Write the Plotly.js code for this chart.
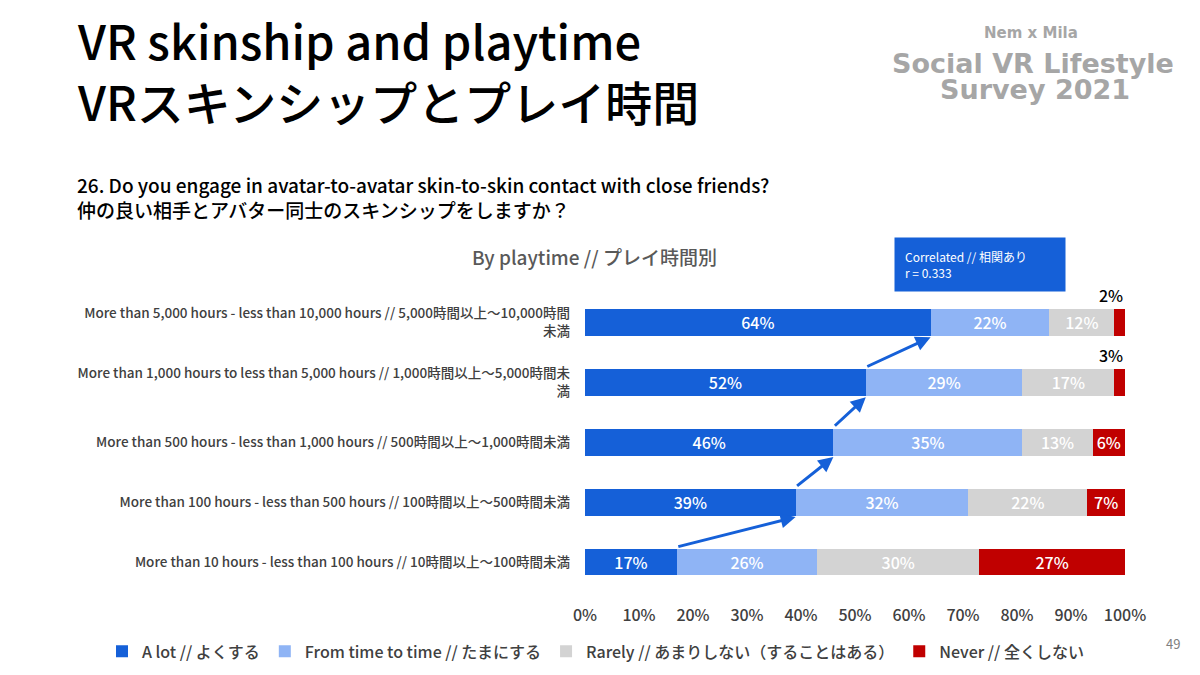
<!DOCTYPE html>
<html><head><meta charset="utf-8">
<script src="https://cdn.plot.ly/plotly-3.0.1.min.js"></script>
<style>body{margin:0;background:#fff}#chart{width:1200px;height:675px}</style>
</head><body><div id="chart"></div>
<script>
const categories = [
  'More than 10 hours - less than 100 hours // 10時間以上～100時間未満',
  'More than 100 hours - less than 500 hours // 100時間以上～500時間未満',
  'More than 500 hours - less than 1,000 hours // 500時間以上～1,000時間未満',
  'More than 1,000 hours to less than 5,000 hours // 1,000時間以上～5,000時間未<br>満',
  'More than 5,000 hours - less than 10,000 hours // 5,000時間以上～10,000時間<br>未満'
];
const seriesNames = ['A lot // よくする', 'From time to time // たまにする', 'Rarely // あまりしない（することはある）', 'Never // 全くしない'];
const aLot = [17, 39, 46, 52, 64];
const sometimes = [26, 32, 35, 29, 22];
const rarely = [30, 22, 13, 17, 12];
const never = [27, 7, 6, 3, 2];
const xTicks = [0,10,20,30,40,50,60,70,80,90,100];

const colors = ['#1560d8', '#8fb4f5', '#d3d3d3', '#c00000'];
const rows = categories.map((c, i) => i);
const font = 'Noto Sans CJK JP, Noto Sans, sans-serif';

const data = [aLot, sometimes, rarely, never].map((vals, k) => ({
  type: 'bar', orientation: 'h', name: seriesNames[k],
  x: vals, y: rows, width: 0.45,
  marker: {color: colors[k]},
  text: vals.map(v => (k == 3 && v < 5) ? '' : v + '%'),
  textposition: 'inside', insidetextanchor: 'middle', textangle: 0, constraintext: 'none',
  textfont: {color: '#fff', size: 16, family: font, weight: 500},
  hoverinfo: 'none'
}));

const annotations = [];
// arrows between A lot bar ends
for (let i = 0; i < aLot.length - 1; i++) {
  annotations.push({
    x: aLot[i+1], y: rows[i+1] - 0.25, ax: aLot[i], ay: rows[i] + 0.25,
    xref: 'x', yref: 'y', axref: 'x', ayref: 'y',
    showarrow: true, arrowhead: 2, arrowsize: 1, arrowwidth: 3, arrowcolor: '#1560d8', text: ''
  });
}
// small never values above bars
never.forEach((v, i) => {
  if (v < 5) annotations.push({x: 100, y: rows[i] + 0.45, xref: 'x', yref: 'y', text: v + '%',
    showarrow: false, xanchor: 'right', font: {size: 16, color: '#000', family: font, weight: 500}});
});
annotations.push(
  {x: 0.0625, y: 0.995, xref: 'paper', yref: 'paper', xanchor: 'left', yanchor: 'top', align: 'left', showarrow: false,
   text: 'VR skinship and playtime<br>VRスキンシップとプレイ時間', font: {size: 47, color: '#000', family: font, weight: 500}},
  {x: 0.0625, y: 0.75, xref: 'paper', yref: 'paper', xanchor: 'left', yanchor: 'top', align: 'left', showarrow: false,
   text: '26. Do you engage in avatar-to-avatar skin-to-skin contact with close friends?<br>仲の良い相手とアバター同士のスキンシップをしますか？', font: {size: 19, color: '#000', family: font, weight: 500}},
  {x: 0.495, y: 0.62, xref: 'paper', yref: 'paper', showarrow: false,
   text: 'By playtime // プレイ時間別', font: {size: 19, color: '#595959', family: font, weight: 500}},
  {x: 0.745, y: 0.568, xref: 'paper', yref: 'paper', xanchor: 'left', yanchor: 'bottom', align: 'left', showarrow: false,
   text: 'Correlated // 相関あり<br>r = 0.333', bgcolor: '#1560d8', borderpad: 10, width: 150,
   font: {size: 12, color: '#fff', family: font}},
  {x: 0.9, y: 0.968, xref: 'paper', yref: 'paper', xanchor: 'right', showarrow: false,
   text: '<b>Nem x Mila</b>', font: {size: 15, color: '#a6a6a6', family: 'DejaVu Sans'}},
  {x: 0.98, y: 0.932, xref: 'paper', yref: 'paper', xanchor: 'right', showarrow: false,
   text: '<b>Social VR Lifestyle</b>', font: {size: 27, color: '#a6a6a6', family: 'DejaVu Sans'}},
  {x: 0.943, y: 0.894, xref: 'paper', yref: 'paper', xanchor: 'right', showarrow: false,
   text: '<b>Survey 2021</b>', font: {size: 27, color: '#a6a6a6', family: 'DejaVu Sans'}},
  {x: 0.985, y: 0.03, xref: 'paper', yref: 'paper', showarrow: false,
   text: '49', font: {size: 13, color: '#7f7f7f', family: font}}
);

const layout = {
  width: 1200, height: 675, margin: {l: 0, r: 0, t: 0, b: 0},
  paper_bgcolor: '#fff', plot_bgcolor: '#fff',
  barmode: 'stack', showlegend: true,
  legend: {orientation: 'h', x: 0.085, y: 0.035, xanchor: 'left', yanchor: 'middle',
    font: {size: 16, color: '#404040', family: font, weight: 500}, itemwidth: 30, traceorder: 'normal'},
  xaxis: {domain: [0.4875, 0.9375], range: [0, 100], tickvals: xTicks, ticktext: xTicks.map(t => t + '%'),
    showgrid: false, zeroline: false, showline: false, ticks: '', ticklabelstandoff: 12,
    tickfont: {size: 16, color: '#404040', family: font, weight: 500}},
  yaxis: {domain: [0.123, 0.567], range: [-0.5, 4.5], tickvals: rows, ticktext: categories,
    showgrid: false, zeroline: false, showline: false, ticks: '', ticklabelstandoff: 14,
    tickfont: {size: 13.5, color: '#404040', family: font, weight: 500}},
  annotations: annotations
};
Plotly.newPlot('chart', data, layout, {staticPlot: true});
</script></body></html>
